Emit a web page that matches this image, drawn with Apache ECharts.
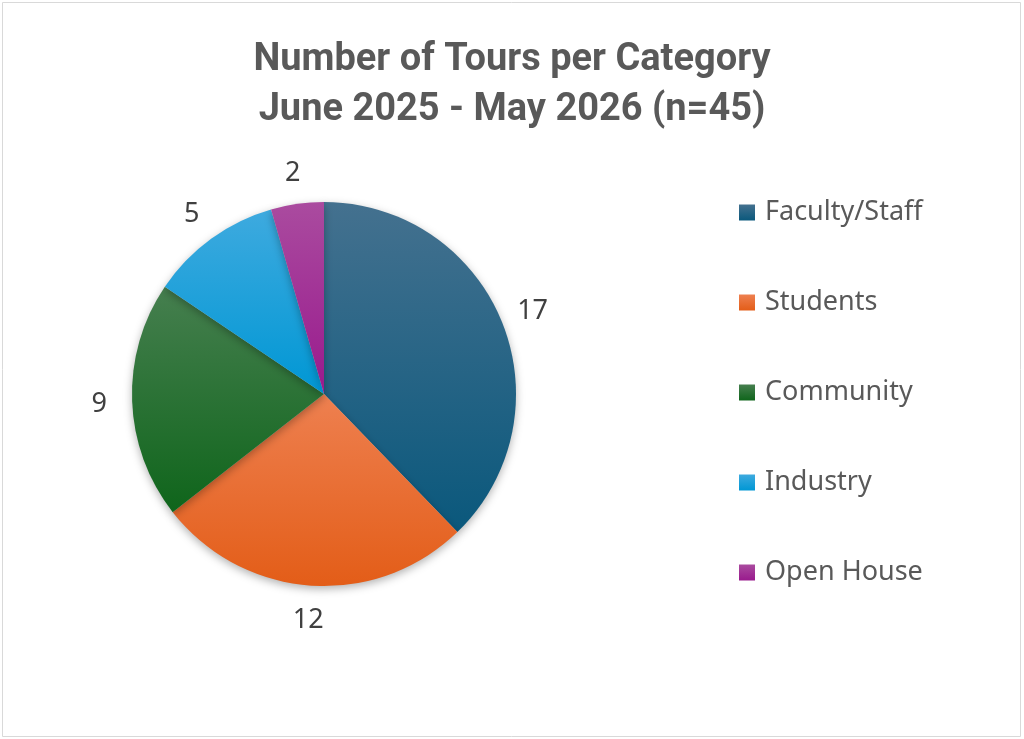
<!DOCTYPE html>
<html>
<head>
<meta charset="utf-8">
<script src="https://cdn.jsdelivr.net/npm/echarts@6/dist/echarts.min.js"></script>
<style>
html,body{margin:0;padding:0;background:#fff;}
#chart{width:1024px;height:739px;}
</style>
</head>
<body>
<div id="chart"></div>
<script>
const categories = ['Faculty/Staff', 'Students', 'Community', 'Industry', 'Open House'];
const tours = [17, 12, 9, 5, 2];
const colorTop = ['#44718F', '#EE8050', '#467F4F', '#3EAADF', '#AA4B9F'];
const colorBottom = ['#0A587C', '#E35D18', '#0F651B', '#0097D4', '#991A8D'];

const chart = echarts.init(document.getElementById('chart'), null, {renderer: 'canvas'});

const data = categories.map((name, i) => ({
  name: name,
  value: tours[i],
  itemStyle: {
    color: new echarts.graphic.LinearGradient(0, 0, 0, 1, [
      {offset: 0, color: colorTop[i]},
      {offset: 1, color: colorBottom[i]}
    ])
  }
}));

chart.setOption({
  backgroundColor: '#ffffff',
  animation: false,
  title: {
    text: 'Number of Tours per Category\nJune 2025 - May 2026 (n=45)',
    left: 'center',
    top: 30,
    textStyle: {
      fontFamily: 'Roboto, sans-serif',
      fontSize: 38,
      fontWeight: 'bold',
      color: '#595959',
      lineHeight: 50
    }
  },
  graphic: [{
    type: 'rect',
    shape: {x: 2.5, y: 2.5, width: 1018, height: 734},
    style: {fill: 'none', stroke: '#d9d9d9', lineWidth: 1},
    silent: true
  }],
  legend: {
    orient: 'vertical',
    left: 739,
    top: 199,
    padding: 0,
    icon: 'rect',
    itemWidth: 16,
    itemHeight: 16,
    itemGap: 63,
    data: categories,
    textStyle: {
      fontFamily: '"Noto Sans", "Open Sans", sans-serif',
      fontSize: 27,
      color: '#595959',
      lineHeight: 27,
      padding: [0, 0, 0, 5]
    }
  },
  series: [{
    type: 'pie',
    center: [324, 394],
    radius: 192,
    startAngle: 90,
    clockwise: true,
    data: data,
    itemStyle: {
      shadowBlur: 8,
      shadowOffsetY: 3,
      shadowColor: 'rgba(0,0,0,0.3)'
    },
    label: {
      show: true,
      position: 'outside',
      formatter: '{c}',
      fontFamily: '"Noto Sans", "Open Sans", sans-serif',
      fontSize: 27,
      color: '#404040',
      distanceToLabelLine: 0
    },
    labelLine: {show: false, length: 33, length2: 0},
    labelLayout: function () {
      return {align: 'center', verticalAlign: 'middle', dy: 2};
    },
    emphasis: {disabled: true}
  }]
});
</script>
</body>
</html>
